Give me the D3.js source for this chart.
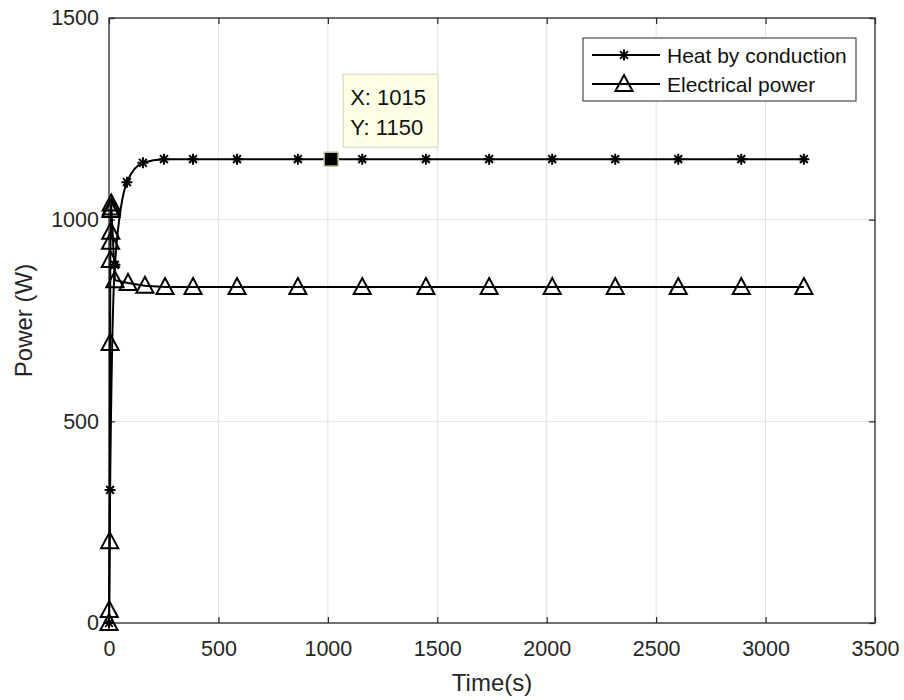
<!DOCTYPE html>
<html>
<head>
<meta charset="utf-8">
<script src="https://cdn.jsdelivr.net/npm/d3@7"></script>
<style>
  body { margin: 0; background: #fff; }
  text { font-family: "Liberation Sans", Arial, sans-serif; }
</style>
</head>
<body>
<div id="chart"></div>
<script>
// Data
const heatTime = [0, 5, 27, 82, 155, 251, 384, 585, 863, 1015, 1157, 1448, 1737, 2025, 2313, 2601, 2889, 3175];
const heatPower = [0, 330, 888, 1093, 1141, 1150, 1150, 1150, 1150, 1150, 1150, 1150, 1150, 1150, 1150, 1150, 1150, 1150];

const elecTime = [0, 1, 3, 5, 6, 7, 8, 9, 10, 11, 27, 87, 164, 256, 384, 585, 863, 1157, 1448, 1737, 2025, 2313, 2601, 2889, 3175];
const elecPower = [0, 32, 203, 694, 900, 945, 970, 1024, 1040, 1030, 850, 843, 836, 833, 833, 833, 833, 833, 833, 833, 833, 833, 833, 833, 833];

const xTicks = [0, 500, 1000, 1500, 2000, 2500, 3000, 3500];
const yTicks = [0, 500, 1000, 1500];

const tipPoint = { x: 1015, y: 1150 };

const seriesNames = ["Heat by conduction", "Electrical power"];

// Chart dimensions
const width = 904;
const height = 700;
const margin = { left: 109, right: 29, top: 18, bottom: 77 };

const xScale = d3.scaleLinear()
    .domain([0, 3500])
    .range([margin.left, width - margin.right]);

const yScale = d3.scaleLinear()
    .domain([0, 1500])
    .range([height - margin.bottom, margin.top]);

const svg = d3.select("#chart")
    .append("svg")
    .attr("width", width)
    .attr("height", height);

const x0 = margin.left, x1 = width - margin.right;
const y0 = height - margin.bottom, y1 = margin.top;

// Grid
svg.append("g").selectAll("line")
    .data(xTicks.slice(1, -1))
    .enter().append("line")
    .attr("x1", d => xScale(d)).attr("x2", d => xScale(d))
    .attr("y1", y0).attr("y2", y1)
    .attr("stroke", "#e3e3e3").attr("stroke-width", 1);

svg.append("g").selectAll("line")
    .data(yTicks.slice(1, -1))
    .enter().append("line")
    .attr("x1", x0).attr("x2", x1)
    .attr("y1", d => yScale(d)).attr("y2", d => yScale(d))
    .attr("stroke", "#e3e3e3").attr("stroke-width", 1);

// Axes
const axisColor = "#262626";
const xAxis = svg.append("g")
    .attr("transform", `translate(0, ${y0})`)
    .call(d3.axisBottom(xScale).tickValues(xTicks).tickSize(-6).tickPadding(18).tickFormat(d3.format("d")));
const yAxis = svg.append("g")
    .attr("transform", `translate(${x0}, 0)`)
    .call(d3.axisLeft(yScale).tickValues(yTicks).tickSize(-6).tickPadding(10).tickFormat(d3.format("d")));
const xTop = svg.append("g")
    .attr("transform", `translate(0, ${y1})`)
    .call(d3.axisTop(xScale).tickValues(xTicks).tickSize(-6).tickFormat(""));
const yRight = svg.append("g")
    .attr("transform", `translate(${x1}, 0)`)
    .call(d3.axisRight(yScale).tickValues(yTicks).tickSize(-6).tickFormat(""));

[xAxis, yAxis, xTop, yRight].forEach(g => {
    g.select(".domain").remove();
    g.selectAll(".tick line").attr("stroke", axisColor).attr("stroke-width", 1.2);
    g.selectAll(".tick text")
        .attr("fill", axisColor)
        .style("font-size", "21.5px")
        .style("font-family", "'Liberation Sans', Arial, sans-serif");
});

svg.append("rect")
    .attr("x", x0).attr("y", y1)
    .attr("width", x1 - x0).attr("height", y0 - y1)
    .attr("fill", "none")
    .attr("stroke", axisColor)
    .attr("stroke-width", 1.3);

// Axis labels
svg.append("text")
    .attr("x", (x0 + x1) / 2).attr("y", 691)
    .attr("text-anchor", "middle")
    .attr("fill", axisColor)
    .style("font-size", "24px")
    .text("Time(s)");

svg.append("text")
    .attr("transform", `translate(32, ${(y0 + y1) / 2}) rotate(-90)`)
    .attr("text-anchor", "middle")
    .attr("fill", axisColor)
    .style("font-size", "24px")
    .text("Power (W)");

// Markers
function starPath(s) {
    const a = s * 0.707;
    return `M${-s},0L${s},0M0,${-s}L0,${s}M${-a},${-a}L${a},${a}M${-a},${a}L${a},${-a}`;
}
function triPath(s) {
    return `M0,${-s}L${s * 0.95},${s * 0.78}L${-s * 0.95},${s * 0.78}Z`;
}

const line = d3.line().x(d => xScale(d[0])).y(d => yScale(d[1]));

const heatData = heatTime.map((t, i) => [t, heatPower[i]]);
const elecData = elecTime.map((t, i) => [t, elecPower[i]]);

const plot = svg.append("g");

plot.append("path")
    .datum(elecData)
    .attr("d", line)
    .attr("fill", "none")
    .attr("stroke", "#000")
    .attr("stroke-width", 2);

plot.append("path")
    .datum(heatData)
    .attr("d", line.curve(d3.curveMonotoneX))
    .attr("fill", "none")
    .attr("stroke", "#000")
    .attr("stroke-width", 2);

plot.selectAll(".tri")
    .data(elecData)
    .enter().append("path")
    .attr("class", "tri")
    .attr("transform", d => `translate(${xScale(d[0])}, ${yScale(d[1])})`)
    .attr("d", triPath(9))
    .attr("fill", "none")
    .attr("stroke", "#000")
    .attr("stroke-width", 2);

plot.selectAll(".star")
    .data(heatData)
    .enter().append("path")
    .attr("class", "star")
    .attr("transform", d => `translate(${xScale(d[0])}, ${yScale(d[1])})`)
    .attr("d", starPath(5.5))
    .attr("fill", "none")
    .attr("stroke", "#000")
    .attr("stroke-width", 2);

// Data tip
const tx = xScale(tipPoint.x), ty = yScale(tipPoint.y);
svg.append("rect")
    .attr("x", tx - 7).attr("y", ty - 7)
    .attr("width", 14).attr("height", 14)
    .attr("fill", "#000")
    .attr("stroke", "#c8c89a")
    .attr("stroke-width", 1.5);

const tip = svg.append("g").attr("transform", `translate(${tx + 12}, ${ty - 85})`);
tip.append("rect")
    .attr("width", 95).attr("height", 73)
    .attr("fill", "#ffffe6")
    .attr("stroke", "#d2d2c0")
    .attr("stroke-width", 1);
tip.append("text").attr("x", 7).attr("y", 31)
    .style("font-size", "22px").attr("fill", "#111")
    .text(`X: ${tipPoint.x}`);
tip.append("text").attr("x", 7).attr("y", 61)
    .style("font-size", "22px").attr("fill", "#111")
    .text(`Y: ${tipPoint.y}`);

// Legend
const legend = svg.append("g").attr("transform", "translate(583, 38)");
legend.append("rect")
    .attr("width", 273).attr("height", 63)
    .attr("fill", "#fff")
    .attr("stroke", "#262626")
    .attr("stroke-width", 1);

const legendItems = legend.selectAll(".item")
    .data(seriesNames)
    .enter().append("g")
    .attr("transform", (d, i) => `translate(0, ${17 + i * 29})`);

legendItems.append("line")
    .attr("x1", 9).attr("x2", 77)
    .attr("stroke", "#000").attr("stroke-width", 2);

legendItems.append("path")
    .attr("transform", "translate(41, 0)")
    .attr("d", (d, i) => i === 0 ? starPath(5.5) : triPath(9))
    .attr("fill", "none")
    .attr("stroke", "#000")
    .attr("stroke-width", 2);

legendItems.append("text")
    .attr("x", 84).attr("y", 8)
    .attr("fill", "#111")
    .style("font-size", "21px")
    .text(d => d);
</script>
</body>
</html>
